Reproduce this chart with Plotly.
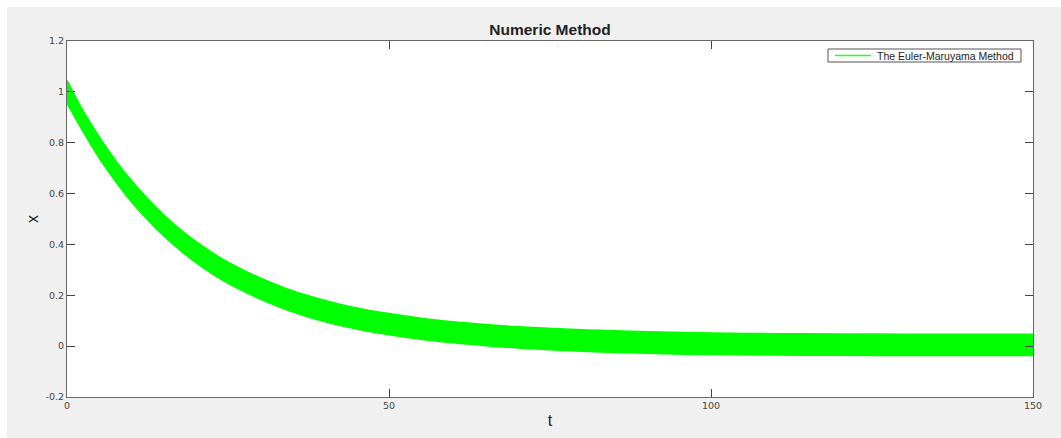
import plotly.graph_objects as go

# Values (envelope of the noisy Euler-Maruyama path)
t_pts = [0, 2, 4, 6, 8, 10, 12, 15, 18, 21, 24, 27, 30, 34, 38, 42, 46, 50,
         55, 60, 65, 70, 80, 90, 100, 110, 120, 130, 140, 150]
x_upper = [1.045, 0.948, 0.863, 0.785, 0.715, 0.651, 0.594, 0.517, 0.451, 0.394,
           0.345, 0.304, 0.268, 0.227, 0.194, 0.167, 0.145, 0.128, 0.110, 0.096,
           0.085, 0.076, 0.064, 0.057, 0.052, 0.049, 0.048, 0.047, 0.047, 0.047]
x_lower = [0.955, 0.865, 0.780, 0.702, 0.632, 0.568, 0.511, 0.434, 0.368, 0.311,
           0.262, 0.221, 0.185, 0.144, 0.111, 0.084, 0.062, 0.045, 0.027, 0.013,
           0.002, -0.007, -0.020, -0.028, -0.033, -0.035, -0.036, -0.037, -0.037, -0.037]

x_ticks = [0, 50, 100, 150]
y_ticks = [-0.2, 0, 0.2, 0.4, 0.6, 0.8, 1, 1.2]
y_tick_text = ["-0.2", "0", "0.2", "0.4", "0.6", "0.8", "1", "1.2"]
series_name = "The Euler-Maruyama Method"

GREEN = "#00ff00"
GRAY_BG = "#f0f0f0"

fig = go.Figure()
fig.add_trace(go.Scatter(x=t_pts, y=x_upper, mode="lines",
                         line=dict(color=GREEN, width=1.5, shape="spline"),
                         showlegend=False, hoverinfo="skip"))
fig.add_trace(go.Scatter(x=t_pts, y=x_lower, mode="lines", fill="tonexty",
                         fillcolor=GREEN, name=series_name,
                         line=dict(color=GREEN, width=1.5, shape="spline"),
                         showlegend=False, hoverinfo="skip"))

W, H = 1061, 438
L, R, T, B = 67, 28, 41, 41
pw, ph = W - L - R, H - T - B

def px2paper_x(px):
    return (px - L) / pw

def px2paper_y(py):
    return (H - B - py) / ph

# legend box drawn in paper coordinates (MATLAB-style compact legend)
lg_x0, lg_x1, lg_y0, lg_y1 = 828, 1021, 49, 62
lg_mid = 55.5

fig.update_layout(
    width=W, height=H,
    margin=dict(l=L, r=R, t=T, b=B, pad=0),
    paper_bgcolor="white",
    plot_bgcolor="white",
    font=dict(family="DejaVu Sans", size=9.5, color="#444444"),
    title=dict(text="<b>Numeric Method</b>", x=0.5, xanchor="center",
               y=1 - 30 / H, yanchor="middle",
               xref="paper",
               font=dict(family="Liberation Sans", size=15.5, color="#222222")),
    shapes=[
        dict(type="rect", xref="paper", yref="paper",
             x0=px2paper_x(7), x1=px2paper_x(W + 5),
             y0=px2paper_y(H + 5), y1=px2paper_y(7),
             fillcolor=GRAY_BG, line=dict(width=0), layer="below"),
        dict(type="rect", xref="paper", yref="paper",
             x0=0, x1=1, y0=0, y1=1,
             fillcolor="white", line=dict(width=0), layer="below"),
        dict(type="rect", xref="paper", yref="paper",
             x0=px2paper_x(lg_x0), x1=px2paper_x(lg_x1),
             y0=px2paper_y(lg_y1), y1=px2paper_y(lg_y0),
             fillcolor="white", line=dict(color="#555555", width=1), layer="above"),
        dict(type="line", xref="paper", yref="paper",
             x0=px2paper_x(835), x1=px2paper_x(871),
             y0=px2paper_y(lg_mid), y1=px2paper_y(lg_mid),
             line=dict(color="#22ff22", width=1.5), layer="above"),
    ],
    annotations=[
        dict(text=series_name, xref="paper", yref="paper",
             x=px2paper_x(875), y=px2paper_y(lg_mid), xanchor="left", yanchor="middle",
             showarrow=False,
             font=dict(family="Liberation Sans", size=10.5, color="#222222")),
    ],
    showlegend=False,
)

fig.update_xaxes(range=[0, 150], tickvals=x_ticks, ticktext=[str(v) for v in x_ticks],
                 showgrid=False, zeroline=False,
                 showline=True, linecolor="#666666", linewidth=1, mirror="ticks",
                 ticks="inside", ticklen=8, tickcolor="#444444", tickwidth=1,
                 title=dict(text="t", standoff=4,
                            font=dict(family="Liberation Sans", size=16, color="#222222")))
fig.update_yaxes(range=[-0.2, 1.2], tickvals=y_ticks, ticktext=y_tick_text,
                 showgrid=False, zeroline=False,
                 showline=True, linecolor="#666666", linewidth=1, mirror="ticks",
                 ticks="inside", ticklen=8, tickcolor="#444444", tickwidth=1,
                 title=dict(text="x", standoff=2,
                            font=dict(family="Liberation Sans", size=16, color="#222222")))

fig.write_html("out.html")
